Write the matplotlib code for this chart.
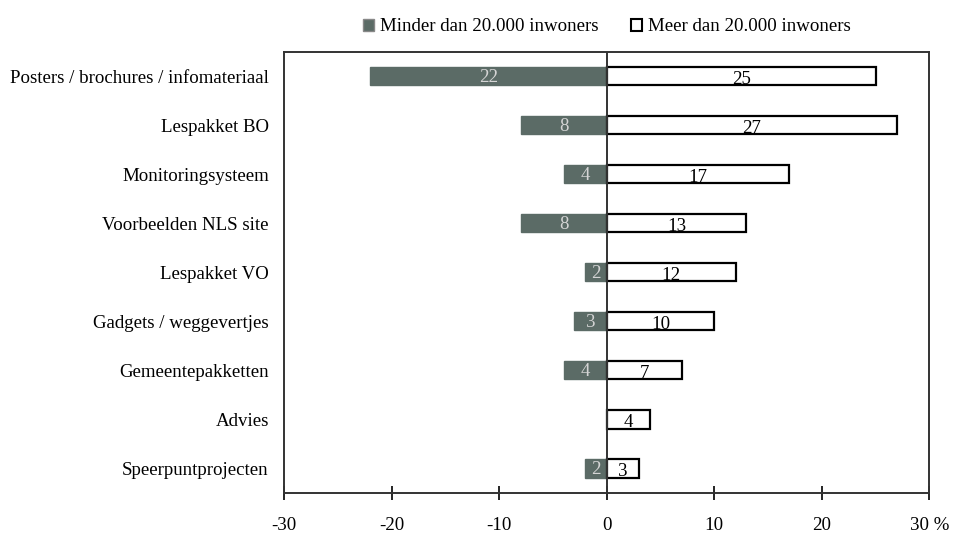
import matplotlib.pyplot as plt
import matplotlib.patches as mpatches
import numpy as np

plt.rcParams['font.family'] = ['Liberation Serif', 'DejaVu Serif']

# Gegevens
categorieen = ['Posters / brochures / infomateriaal', 'Lespakket BO', 'Monitoringsysteem',
               'Voorbeelden NLS site', 'Lespakket VO', 'Gadgets / weggevertjes',
               'Gemeentepakketten', 'Advies', 'Speerpuntprojecten']
minder = [22, 8, 4, 8, 2, 3, 4, 0, 2]
meer = [25, 27, 17, 13, 12, 10, 7, 4, 3]
ticks = [-30, -20, -10, 0, 10, 20, 30]

grijs = '#5b6b66'
fs = 13.6

fig = plt.figure(figsize=(9.63, 5.35), dpi=100)
ax = fig.add_axes([0.295, 0.0785, 0.67, 0.825])

y = np.arange(len(categorieen))
neg = -np.array(minder)

ax.barh(y, neg, height=0.37, color=grijs, edgecolor=grijs, linewidth=1)
ax.barh(y, meer, height=0.37, color='white', edgecolor='black', linewidth=1.6)

for i in range(len(categorieen)):
    if minder[i] > 0:
        ax.text(neg[i] / 2, y[i] + 0.03, str(minder[i]), ha='center', va='center',
                color='#d4d4d4', fontsize=fs)
    ax.text(meer[i] / 2, y[i] + 0.06, str(meer[i]), ha='center', va='center',
            color='black', fontsize=fs)

ax.axvline(0, color='#333333', linewidth=1.4)

ax.set_xlim(-30, 30)
ax.set_ylim(8.5, -0.5)
ax.set_yticks(y)
ax.set_yticklabels(categorieen, fontsize=fs)
ax.tick_params(axis='y', length=0, pad=11)
ax.set_xticks(ticks)
ax.set_xticklabels([str(t) if t != 30 else '30 %' for t in ticks], fontsize=fs)
ax.tick_params(axis='x', direction='inout', length=10, width=1.2, pad=12)
for s in ax.spines.values():
    s.set_color('#333333')
    s.set_linewidth(1.4)

h1 = mpatches.Patch(facecolor=grijs, edgecolor='#888888', label='Minder dan 20.000 inwoners')
h2 = mpatches.Patch(facecolor='white', edgecolor='black', linewidth=1.5, label='Meer dan 20.000 inwoners')
fig.legend(handles=[h1, h2], loc='center', bbox_to_anchor=(0.63, 0.95), ncol=2,
           frameon=False, fontsize=fs, handlelength=0.6, handleheight=0.6,
           handletextpad=0.3, columnspacing=1.7)

plt.savefig('out.png', dpi=100)
